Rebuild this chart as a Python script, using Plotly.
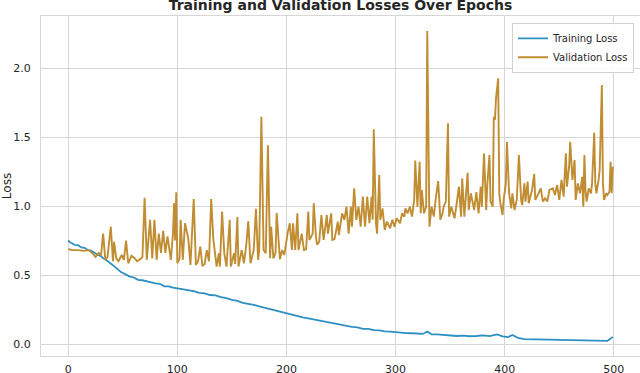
import plotly.graph_objects as go

# Values (epoch, loss)
train_epochs = [0, 2, 4, 6, 9, 12, 15, 18, 21, 24, 27, 30, 33, 36, 40, 44, 48, 52, 56, 60,
                64, 68, 72, 76, 80, 84, 88, 92, 96, 100, 105, 110, 115, 120, 125, 130, 135,
                140, 145, 150, 155, 160, 165, 170, 175, 180, 185, 190, 195, 200, 205, 210,
                215, 220, 225, 230, 235, 240, 245, 250, 255, 260, 265, 270, 275, 280, 285,
                290, 295, 300, 305, 310, 315, 320, 325, 329, 333, 338, 344, 350, 356, 362,
                368, 374, 380, 386, 393, 398, 403, 407, 412, 418, 425, 432, 440, 448, 456,
                464, 472, 480, 488, 494, 497, 499]
train_loss = [0.75, 0.735, 0.728, 0.718, 0.716, 0.70, 0.697, 0.68, 0.676, 0.66, 0.647, 0.636,
              0.615, 0.602, 0.578, 0.552, 0.523, 0.507, 0.49, 0.482, 0.465, 0.462, 0.452,
              0.447, 0.44, 0.436, 0.418, 0.417, 0.408, 0.403, 0.396, 0.385, 0.383, 0.37,
              0.367, 0.355, 0.352, 0.34, 0.333, 0.32, 0.313, 0.298, 0.293, 0.284, 0.272,
              0.262, 0.25, 0.243, 0.228, 0.222, 0.208, 0.202, 0.193, 0.186, 0.178, 0.17,
              0.162, 0.153, 0.147, 0.138, 0.132, 0.124, 0.121, 0.11, 0.109, 0.10, 0.098,
              0.091, 0.09, 0.085, 0.084, 0.079, 0.078, 0.074, 0.073, 0.09, 0.07, 0.069,
              0.064, 0.06, 0.058, 0.061, 0.056, 0.058, 0.063, 0.057, 0.07, 0.055, 0.05,
              0.065, 0.045, 0.035, 0.034, 0.031, 0.03, 0.03, 0.027, 0.027, 0.024, 0.026,
              0.023, 0.022, 0.04, 0.05]

val_epochs = [0, 3, 9, 14, 19, 22, 25, 28, 30, 32, 34, 36, 39, 41, 42, 44, 46, 49, 51, 53,
              55, 58, 61, 63, 66, 68, 70, 72, 75, 77, 79, 81, 83, 85, 87, 89, 91, 94, 96, 97,
              98, 99, 100, 102, 103, 105, 107, 110, 112, 114, 115, 117, 119, 121, 123, 125,
              127, 129, 130, 131, 133, 136, 138, 139, 141, 143, 145, 148, 149, 152, 153, 155,
              156, 159, 161, 163, 165, 167, 170, 172, 174, 175, 177, 179, 181, 183, 185, 186,
              188, 190, 191, 194, 196, 198, 201, 203, 205, 206, 208, 210, 211, 214, 216, 218,
              220, 221, 224, 225, 227, 228, 230, 232, 234, 237, 238, 241, 242, 244, 245, 247,
              248, 251, 253, 255, 257, 259, 260, 262, 264, 266, 268, 270, 272, 274, 276, 278,
              279, 280, 282, 283, 285, 286, 288, 290, 292, 295, 297, 299, 301, 304, 306, 308,
              309, 311, 313, 315, 317, 318, 320, 322, 323, 324, 326, 328, 329, 331, 333, 335,
              337, 339, 341, 343, 344, 346, 348, 349, 351, 354, 356, 358, 360, 361, 363, 366,
              367, 369, 372, 374, 376, 378, 379, 381, 383, 384, 386, 387, 389, 390, 391, 392,
              394, 395, 396, 398, 399, 401, 402, 404, 406, 407, 409, 411, 413, 415, 416, 418,
              419, 421, 422, 425, 427, 428, 431, 433, 435, 437, 439, 441, 444, 446, 448, 450,
              452, 454, 456, 457, 459, 460, 462, 464, 465, 467, 469, 471, 472, 473, 474, 475,
              477, 479, 480, 482, 483, 484, 486, 487, 489, 490, 491, 493, 494, 496, 497, 498,
              499]
val_loss = [0.69, 0.68, 0.68, 0.675, 0.68, 0.66, 0.63, 0.66, 0.64, 0.80, 0.61, 0.63, 0.85,
            0.60, 0.74, 0.62, 0.60, 0.645, 0.61, 0.75, 0.585, 0.64, 0.62, 0.60, 0.615, 0.63,
            1.06, 0.61, 0.90, 0.62, 0.90, 0.61, 0.80, 0.66, 0.82, 0.66, 0.78, 0.61, 0.80,
            1.02, 0.75, 1.10, 0.585, 0.62, 0.90, 0.61, 0.875, 0.765, 0.573, 0.875, 1.05,
            0.573, 0.60, 0.705, 0.565, 0.58, 0.68, 0.60, 0.78, 1.05, 0.754, 0.561, 0.657,
            0.561, 0.96, 0.657, 0.561, 0.90, 0.561, 0.657, 0.58, 0.92, 0.561, 0.681, 0.585,
            0.705, 0.89, 0.585, 0.681, 0.98, 0.609, 0.681, 1.647, 0.681, 0.657, 1.44, 0.621,
            0.85, 0.621, 0.66, 0.95, 0.614, 0.681, 0.645, 0.80, 0.875, 0.681, 0.875, 0.681,
            0.947, 0.681, 0.80, 0.681, 0.686, 0.96, 0.754, 0.80, 1.02, 0.778, 0.72, 0.742,
            0.935, 0.754, 0.935, 0.80, 0.947, 0.754, 0.76, 0.80, 0.887, 0.79, 0.947, 0.90,
            0.995, 0.80, 0.995, 0.85, 1.128, 0.90, 0.995, 0.85, 1.068, 0.85, 1.068, 0.875,
            1.068, 0.90, 1.556, 0.875, 0.80, 1.225, 0.90, 0.983, 0.826, 0.887, 0.838, 0.90,
            0.85, 0.911, 0.875, 0.947, 0.923, 0.983, 0.947, 0.995, 0.923, 1.044, 1.33, 0.995,
            1.32, 0.947, 1.116, 0.947, 0.995, 2.268, 0.85, 0.995, 0.923, 1.068, 1.18, 0.90,
            0.947, 0.995, 1.032, 1.60, 0.923, 0.995, 0.911, 1.02, 1.14, 0.923, 1.20, 0.923,
            1.24, 0.971, 1.092, 0.971, 1.10, 0.947, 1.14, 0.995, 1.38, 0.971, 1.152, 1.37,
            1.032, 0.995, 1.647, 1.623, 1.78, 1.925, 1.092, 1.02, 0.935, 1.044, 1.164, 1.466,
            1.092, 0.983, 1.092, 0.971, 1.044, 1.37, 1.044, 1.007, 1.164, 1.032, 1.177, 1.02,
            1.116, 1.232, 1.044, 1.092, 1.128, 1.032, 1.056, 1.032, 1.116, 1.128, 1.08,
            1.152, 1.044, 1.189, 1.068, 1.382, 1.14, 1.285, 1.466, 1.189, 1.334, 1.044,
            1.164, 1.092, 1.212, 0.995, 1.37, 1.116, 1.032, 1.128, 1.092, 1.164, 1.531,
            1.164, 1.092, 1.189, 1.261, 1.877, 1.164, 1.044, 1.092, 1.08, 1.104, 1.321,
            1.092, 1.285]

TEXT = "#262626"
GRID = "#d6d6d6"

fig = go.Figure()
fig.add_trace(go.Scatter(x=train_epochs, y=train_loss, mode="lines", name="Training Loss",
                         line=dict(color="#2e8fc2", width=1.8)))
fig.add_trace(go.Scatter(x=val_epochs, y=val_loss, mode="lines", name="Validation Loss",
                         line=dict(color="#c08d32", width=1.9)))

fig.update_layout(
    width=640, height=373,
    margin=dict(l=41, r=0, t=16, b=17, autoexpand=False),
    paper_bgcolor="white", plot_bgcolor="white",
    font=dict(family="DejaVu Sans", size=11, color=TEXT),
    title=dict(text="<b>Training and Validation Losses Over Epochs</b>",
               x=0.5, xref="paper", y=1 - 5 / 373, yref="container",
               xanchor="center", yanchor="middle", automargin=False,
               font=dict(size=14, color=TEXT)),
    showlegend=True,
    legend=dict(x=0.99, y=0.98, xanchor="right", yanchor="top",
                bgcolor="rgba(255,255,255,0.85)", bordercolor="#d0d0d0", borderwidth=1,
                font=dict(size=10, color=TEXT), tracegroupgap=0),
)
fig.update_xaxes(range=[-24.95, 523.95], dtick=100, tick0=0, showgrid=True,
                 gridcolor=GRID, gridwidth=1, zeroline=False, showline=True,
                 linecolor=GRID, linewidth=1, mirror=True, ticks="outside",
                 ticklen=3, tickcolor="rgba(0,0,0,0)", automargin=False)
fig.update_yaxes(range=[-0.087, 2.377], dtick=0.5, tick0=0, tickformat=".1f",
                 showgrid=True, gridcolor=GRID, gridwidth=1, zeroline=False,
                 showline=True, linecolor=GRID, linewidth=1, mirror=True,
                 ticks="outside", ticklen=7, tickcolor="rgba(0,0,0,0)", automargin=False,
                 title=dict(text="Loss", font=dict(size=12, color=TEXT), standoff=6))

# page body has an 8px default margin; drop it so the figure sits at the window corner
fig.write_html("out.html", config={"displayModeBar": False},
               post_script="document.body.style.margin='0';")
